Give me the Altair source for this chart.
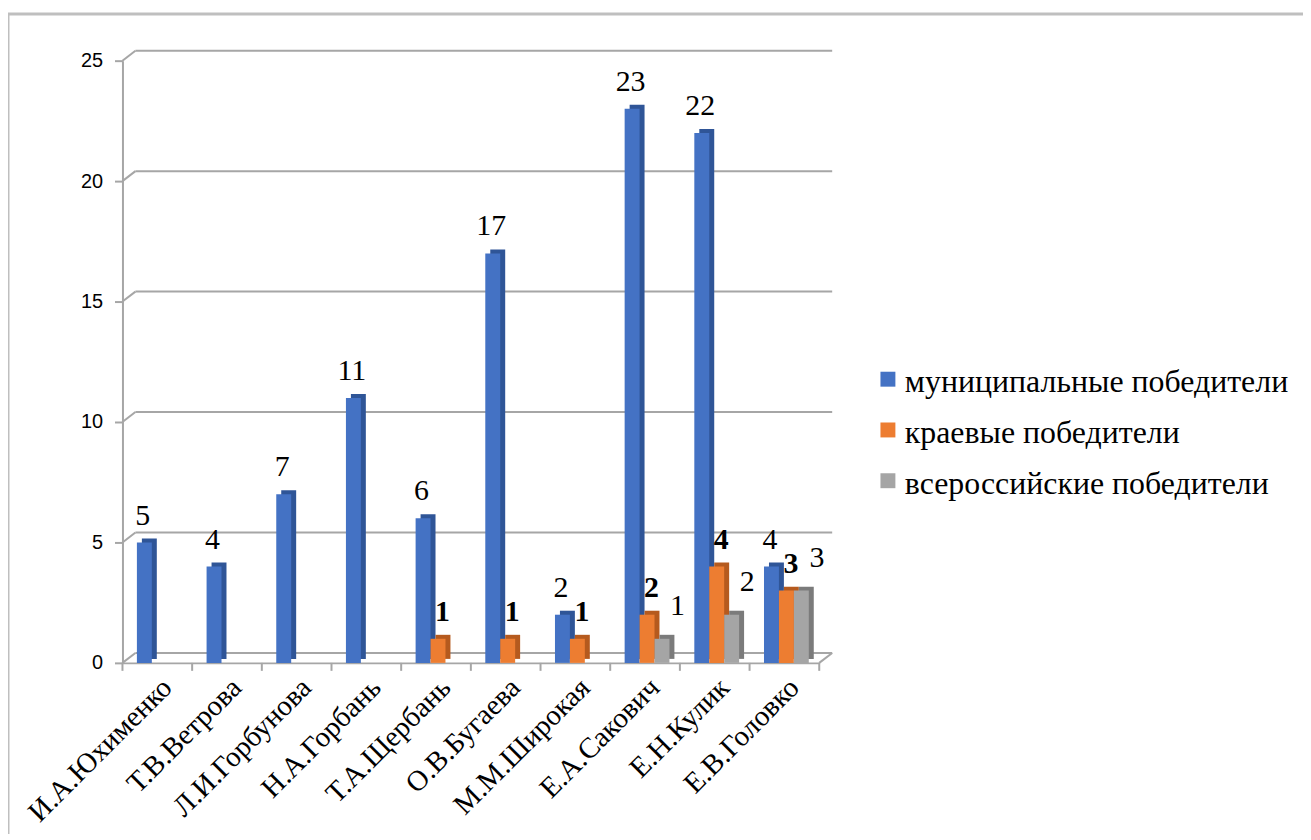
import altair as alt
import pandas as pd

names = ["И.А.Юхименко", "Т.В.Ветрова", "Л.И.Горбунова", "Н.А.Горбань", "Т.А.Щербань",
         "О.В.Бугаева", "М.М.Широкая", "Е.А.Сакович", "Е.Н.Кулик", "Е.В.Головко"]
series = ["муниципальные победители", "краевые победители", "всероссийские победители"]
municipal = [5, 4, 7, 11, 6, 17, 2, 23, 22, 4]
regional = [0, 0, 0, 0, 1, 1, 1, 2, 4, 3]
allrussia = [0, 0, 0, 0, 0, 0, 0, 1, 2, 3]
y_ticks = [0, 5, 10, 15, 20, 25]

colors = ["#4472C4", "#ED7D31", "#A5A5A5"]
side_colors = ["#2F5597", "#B55A1E", "#7B7B7B"]
grid_color = "#A6A6A6"
SERIF = "Liberation Serif"
SANS = "Liberation Sans"

rows = []
for s, vals in zip(series, [municipal, regional, allrussia]):
    for n, v in zip(names, vals):
        rows.append({"name": n, "series": s, "value": v})
df = pd.DataFrame(rows)
ticks_df = pd.DataFrame({"v": y_ticks})
names_df = pd.DataFrame({"name": names})
series_df = pd.DataFrame({"series": series})
one = pd.DataFrame({"v": [0]})

W, H = 700, 605

x_axis = alt.Axis(title=None, labelAngle=-45, labelFont=SERIF, labelFontSize=29,
                  labelColor="#000000", ticks=False, domainColor=grid_color, domainWidth=2,
                  labelPadding=10, labelLimit=0, labelAlign="right", labelBaseline="top")
y_axis = alt.Axis(title=None, values=y_ticks, grid=False, domainColor=grid_color, domainWidth=2,
                  tickColor=grid_color, tickWidth=2, tickSize=8, labelFont=SANS,
                  labelFontSize=20, labelColor="#000000", labelPadding=12)

x_scale = alt.Scale(paddingInner=0, paddingOuter=0)
y_scale = alt.Scale(domain=[0, 25], nice=False)
leg_scale = alt.Scale(type="point", domain=series, range=[320, 422], padding=0)


def xoff(align):
    return alt.XOffset("series:N", sort=series,
                       scale=alt.Scale(domain=series, paddingInner=0, paddingOuter=0.8333, align=align))


bars_src = alt.Chart(df).transform_filter("datum.value > 0")

side = bars_src.mark_bar(yOffset=-4).encode(
    x=alt.X("name:N", sort=names, scale=x_scale, axis=None),
    xOffset=xoff(0.78),
    y=alt.Y("value:Q", scale=y_scale, axis=None),
    color=alt.Color("series:N", scale=alt.Scale(domain=series, range=side_colors), legend=None),
)

front = bars_src.mark_bar().encode(
    x=alt.X("name:N", sort=names, scale=x_scale, axis=x_axis),
    xOffset=xoff(0.58),
    y=alt.Y("value:Q", scale=y_scale, axis=y_axis),
    color=alt.Color("series:N", scale=alt.Scale(domain=series, range=colors), legend=None),
)


def labels(s, weight, dx, dy):
    return alt.Chart(df).transform_filter(
        f"datum.value > 0 && datum.series == '{s}'"
    ).mark_text(font=SERIF, fontSize=30, fontWeight=weight, color="#000000",
                baseline="bottom", dx=dx, dy=dy).encode(
        x=alt.X("name:N", sort=names, scale=x_scale, axis=None),
        xOffset=xoff(0.58),
        y=alt.Y("value:Q", scale=y_scale, axis=None),
        text="value:Q",
    )


lab1 = labels(series[0], "normal", 2, -12)
lab2 = labels(series[1], "bold", 4, -12)
lab3 = labels(series[2], "normal", 11, -18)

# legend (drawn as marks so that the serif font is used)
leg_sym = alt.Chart(series_df).mark_square(size=225, opacity=1).encode(
    x=alt.value(769),
    y=alt.Y("series:N", sort=series, scale=leg_scale, axis=None),
    color=alt.Color("series:N", scale=alt.Scale(domain=series, range=colors), legend=None),
)
leg_txt = alt.Chart(series_df).mark_text(font=SERIF, fontSize=32, color="#000000",
                                         align="left", baseline="alphabetic", dy=13).encode(
    x=alt.value(786),
    y=alt.Y("series:N", sort=series, scale=leg_scale, axis=None),
    text="series:N",
)

grid = alt.Chart(ticks_df).mark_rule(color=grid_color, strokeWidth=2, yOffset=-10).encode(
    x=alt.value(13), x2=alt.value(W + 13),
    y=alt.Y("v:Q", scale=y_scale, axis=None),
)
diag = alt.Chart(ticks_df).mark_rule(color=grid_color, strokeWidth=2, y2Offset=-10).encode(
    x=alt.value(0), x2=alt.value(13),
    y=alt.Y("v:Q", scale=y_scale, axis=None), y2="v:Q",
)
diag_r = alt.Chart(one).mark_rule(color=grid_color, strokeWidth=2, y2Offset=-10).encode(
    x=alt.value(W), x2=alt.value(W + 13),
    y=alt.Y("v:Q", scale=y_scale, axis=None), y2="v:Q",
)
xticks = alt.Chart(names_df).mark_rule(color=grid_color, strokeWidth=2).encode(
    x=alt.X("name:N", sort=names, scale=x_scale, bandPosition=0, axis=None),
    y=alt.value(H), y2=alt.value(H + 8),
)
xtick_end = alt.Chart(one).mark_rule(color=grid_color, strokeWidth=2).encode(
    x=alt.value(W), y=alt.value(H), y2=alt.value(H + 8),
)
border_l = alt.Chart(one).mark_rule(color="#BFBFBF", strokeWidth=3).encode(
    x=alt.value(-115), y=alt.value(-47), y2=alt.value(900),
)
border_t = alt.Chart(one).mark_rule(color="#BFBFBF", strokeWidth=3).encode(
    x=alt.value(-115), x2=alt.value(1300), y=alt.value(-47),
)

chart = alt.layer(
    border_l, border_t, grid, diag, diag_r, xticks, xtick_end, side, front, lab1, lab2, lab3,
    leg_sym, leg_txt
).resolve_scale(
    xOffset="independent", color="independent", y="independent"
).resolve_axis(
    x="independent", y="independent"
).properties(
    width=W, height=H,
    autosize=alt.AutoSizeParams(type="none"),
    padding={"left": 115, "top": 51, "right": 486, "bottom": 170},
).configure_view(stroke=None)

chart.save("out.html", embed_options={"renderer": "svg", "actions": False})
